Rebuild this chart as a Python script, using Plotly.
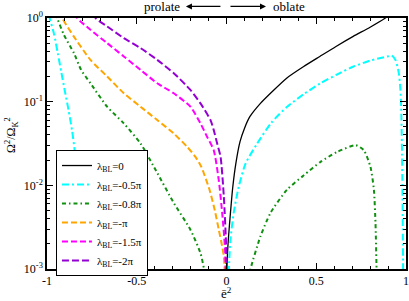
import plotly.graph_objects as go

# ---- data ----
x_l0 = [0.0, 0.004, 0.01, 0.022, 0.035, 0.052, 0.075, 0.10, 0.13, 0.189, 0.264, 0.335, 0.43, 0.52, 0.61, 0.706, 0.80, 0.885, 0.9]
y_l0 = [0.0006, 0.0013, 0.00224, 0.00468, 0.00955, 0.0182, 0.0331, 0.0479, 0.0661, 0.0955, 0.138, 0.191, 0.263, 0.347, 0.457, 0.603, 0.776, 1.0, 1.07]

x_l05 = [-0.99, -0.985, -0.96, -0.94, -0.92, -0.90, -0.88, -0.86, -0.845, -0.835, -0.827, -0.821, None,
         0.012, 0.022, 0.04, 0.068, 0.106, 0.171, 0.25, 0.338, 0.43, 0.524, 0.62, 0.708, 0.80, 0.895, 0.92,
         0.941, 0.96, 0.969, 0.973, 0.977, 0.980, 0.982, 0.984]
y_l05 = [1.1, 1.0, 0.631, 0.380, 0.224, 0.132, 0.0794, 0.0447, 0.0251, 0.0112, 0.00398, 0.00089, None,
         0.00089, 0.00224, 0.00468, 0.00955, 0.0182, 0.0316, 0.0562, 0.0871, 0.123, 0.166, 0.214, 0.263, 0.309, 0.347, 0.355,
         0.316, 0.219, 0.138, 0.0871, 0.0316, 0.01, 0.00316, 0.00089]

x_l08 = [-0.95, -0.943, -0.906, -0.85, -0.81, -0.758, -0.665, -0.572, -0.479, -0.386, -0.294, -0.201, -0.145, -0.126, -0.12, None,
         0.128, 0.134, 0.189, 0.245, 0.338, 0.431, 0.524, 0.617, 0.72, 0.765, 0.802, 0.821, 0.830, 0.836, 0.837]
y_l08 = [1.12, 1.0, 0.631, 0.380, 0.240, 0.166, 0.0871, 0.0550, 0.0316, 0.0141, 0.00617, 0.00295, 0.00155, 0.00102, 0.00079, None,
         0.0008, 0.001, 0.00245, 0.00468, 0.00891, 0.0132, 0.0191, 0.0251, 0.0302, 0.0263, 0.0166, 0.00891, 0.00355, 0.001, 0.0008]

x_l1 = [-0.925, -0.915, -0.851, -0.758, -0.665, -0.572, -0.479, -0.386, -0.294, -0.219, -0.173, -0.14, -0.095, -0.065, -0.043, -0.025, -0.015, -0.008]
y_l1 = [1.2, 1.0, 0.603, 0.316, 0.2, 0.126, 0.0871, 0.0603, 0.0417, 0.0288, 0.0219, 0.0166, 0.00891, 0.00501, 0.00295, 0.00191, 0.00141, 0.00079]

x_l15 = [-0.84, -0.832, -0.758, -0.665, -0.572, -0.479, -0.386, -0.294, -0.201, -0.145, -0.108, -0.071, -0.043, -0.024, -0.009, -0.004]
y_l15 = [1.15, 1.0, 0.724, 0.501, 0.347, 0.240, 0.166, 0.126, 0.0871, 0.0550, 0.0380, 0.0263, 0.0115, 0.00468, 0.00186, 0.00079]

x_l2 = [-0.74, -0.730, -0.665, -0.572, -0.479, -0.386, -0.294, -0.201, -0.145, -0.089, -0.071, -0.052, -0.033, -0.015, -0.002, 0.0]
y_l2 = [1.15, 1.0, 0.794, 0.575, 0.437, 0.316, 0.219, 0.138, 0.0955, 0.0603, 0.0457, 0.0316, 0.0219, 0.00741, 0.00186, 0.00079]

names = ["λ<sub>BL</sub>=0", "λ<sub>BL</sub>=-0.5π", "λ<sub>BL</sub>=-0.8π",
         "λ<sub>BL</sub>=-π", "λ<sub>BL</sub>=-1.5π", "λ<sub>BL</sub>=-2π"]
xs = [x_l0, x_l05, x_l08, x_l1, x_l15, x_l2]
ys = [y_l0, y_l05, y_l08, y_l1, y_l15, y_l2]
colors = ["black", "#00ffff", "#109010", "#ffa500", "#ff00ff", "#9400d3"]
dashes = ["solid", "7px,3px,2px,3px", "4px,3px,1.5px,3px", "6px,3px", "6px,3px", "7px,3px"]
widths = [1.3, 2, 2, 2, 2, 2]

xtick_vals = [-1, -0.5, 0, 0.5, 1]
xtick_text = ["-1", "-0.5", "0", "0.5", "1"]
ytick_vals = [0.001, 0.01, 0.1, 1]
ytick_text = ["10<sup>-3</sup>", "10<sup>-2</sup>", "10<sup>-1</sup>", "10<sup>0</sup>"]

FONT = "Liberation Serif"

fig = go.Figure()
for x, y, n, c, d, w in zip(xs, ys, names, colors, dashes, widths):
    fig.add_trace(go.Scatter(x=x, y=y, name=n, mode="lines",
                             line=dict(color=c, dash=d, width=w, shape="spline", smoothing=0.6)))

fig.update_layout(
    width=409, height=301,
    margin=dict(l=47, r=3, t=18, b=32, autoexpand=False),
    paper_bgcolor="white", plot_bgcolor="white",
    font=dict(family=FONT, size=12, color="black"),
    showlegend=True,
    legend=dict(x=0.025, y=0.474, xanchor="left", yanchor="top",
                bgcolor="white", bordercolor="black", borderwidth=1,
                font=dict(family=FONT, size=11), tracegroupgap=0,
                itemwidth=30),
)
fig.update_xaxes(range=[-1, 1], tickvals=xtick_vals, ticktext=xtick_text, automargin=False,
                 ticks="inside", ticklen=6, tickwidth=1, tickcolor="black",
                 showline=True, linecolor="black", linewidth=1.5, mirror="allticks",
                 showgrid=False, zeroline=False,
                 minor=dict(dtick=0.1, ticks="inside", ticklen=3, tickcolor="black", showgrid=False))
fig.update_yaxes(type="log", range=[-3, 0], tickvals=ytick_vals, ticktext=ytick_text, automargin=False,
                 ticks="inside", ticklen=6, tickwidth=1, tickcolor="black",
                 showline=True, linecolor="black", linewidth=1.5, mirror="allticks",
                 showgrid=False, zeroline=False,
                 minor=dict(dtick="D1", ticks="inside", ticklen=3, tickcolor="black", showgrid=False))

# axis titles
fig.add_annotation(xref="paper", yref="paper", x=0.5, y=-0.096, xanchor="center", yanchor="middle",
                   text="ē<sup>2</sup>", showarrow=False, font=dict(family=FONT, size=13))
fig.add_annotation(xref="paper", yref="paper", x=-0.0975, y=0.534, xanchor="center", yanchor="middle",
                   textangle=-90, text="Ω<sup>2</sup>/Ω<sub>K</sub><sup>2</sup>", showarrow=False,
                   font=dict(family=FONT, size=12))

# header "prolate <--   --> oblate"
fig.add_annotation(xref="paper", yref="paper", x=0.320, y=1.046, xanchor="center", yanchor="middle",
                   text="prolate", showarrow=False, font=dict(family=FONT, size=13))
fig.add_annotation(xref="paper", yref="paper", x=0.674, y=1.046, xanchor="center", yanchor="middle",
                   text="oblate", showarrow=False, font=dict(family=FONT, size=13))
fig.add_annotation(xref="paper", yref="paper", x=0.387, y=1.046, ax=36, ay=0, text="",
                   showarrow=True, arrowhead=2, arrowsize=1, arrowwidth=1.2, arrowcolor="black")
fig.add_annotation(xref="paper", yref="paper", x=0.610, y=1.046, ax=-37, ay=0, text="",
                   showarrow=True, arrowhead=2, arrowsize=1, arrowwidth=1.2, arrowcolor="black")

# remove the browser's default 8px body margin so the figure sits at the window origin
fig.write_html("out.html", config=dict(displayModeBar=False),
               post_script="document.body.style.margin='0px';")
